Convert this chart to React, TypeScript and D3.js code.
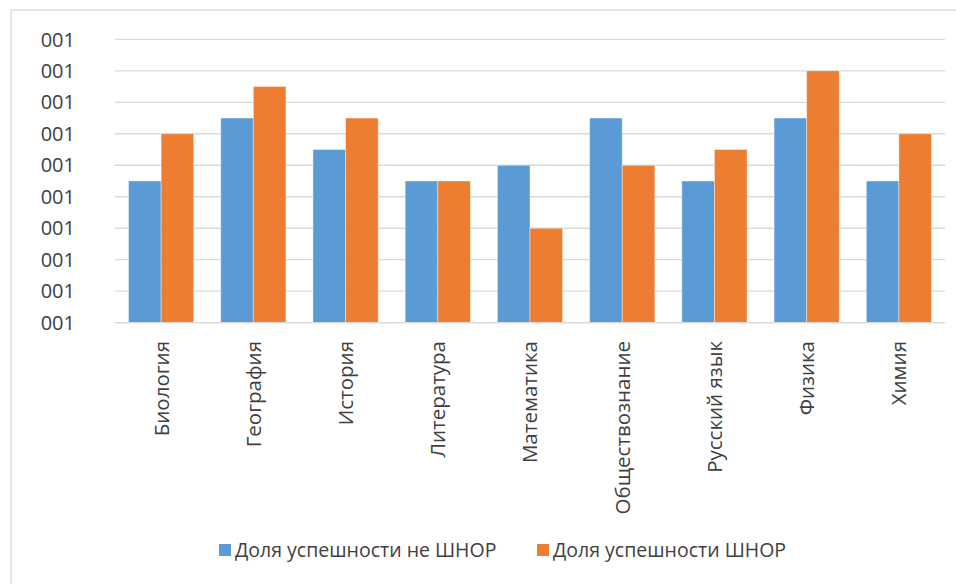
import React from "react";
import * as d3 from "d3";

const categories = ["Биология", "География", "История", "Литература", "Математика", "Обществознание", "Русский язык", "Физика", "Химия"];
const seriesNames = ["Доля успешности не ШНОР", "Доля успешности ШНОР"];
const notShnor = [4.5, 6.5, 5.5, 4.5, 5.0, 6.5, 4.5, 6.5, 4.5];
const shnor = [6.0, 7.5, 6.5, 4.5, 3.0, 5.0, 5.5, 8.0, 6.0];
const yTicks = [0, 1, 2, 3, 4, 5, 6, 7, 8, 9];
const yTickLabels = ["001", "001", "001", "001", "001", "001", "001", "001", "001", "001"];
const colors = ["#5B9BD5", "#ED7D31"];

const W = 956;
const H = 584;
const plot = { left: 115, right: 945, top: 39.3, bottom: 322.7 };
const FONT = "'Open Sans', 'Noto Sans', sans-serif";
const FS = 19.5;
const TXT = "#404040";

export default function App() {
  const x = d3.scaleBand<string>().domain(categories).range([plot.left, plot.right]).paddingInner(0.293).paddingOuter(0.1465);
  const x1 = d3.scaleBand<number>().domain([0, 1]).range([0, x.bandwidth()]);
  const y = d3.scaleLinear().domain([0, 9]).range([plot.bottom, plot.top]);
  const series = [notShnor, shnor];

  return (
    <svg width={W} height={H} style={{ position: "absolute", left: 0, top: 0, display: "block", background: "#fff" }}>
      <rect x={11} y={10} width={W + 20} height={H + 20} fill="#fff" stroke="#d9d9d9" strokeWidth={1.3} />
      {yTicks.map((t, i) => (
        <g key={i}>
          <line x1={plot.left} x2={plot.right} y1={y(t)} y2={y(t)} stroke="#d9d9d9" strokeWidth={1.3} />
          <text x={75} y={y(t)} dy="0.36em" textAnchor="end" fontFamily={FONT} fontSize={20} fill={TXT}>{yTickLabels[i]}</text>
        </g>
      ))}
      {categories.map((c, ci) => (
        <g key={c} transform={`translate(${x(c)},0)`}>
          {series.map((s, si) => (
            <rect key={si} x={x1(si)} y={y(s[ci])} width={x1.bandwidth()} height={y(0) - y(s[ci])} fill={colors[si]} stroke="#fff" strokeOpacity={0.5} strokeWidth={0.8} />
          ))}
        </g>
      ))}
      <line x1={plot.left} x2={plot.right} y1={y(0)} y2={y(0)} stroke="#d9d9d9" strokeWidth={1.3} />
      {categories.map((c) => (
        <text key={c} transform={`translate(${(x(c) as number) + x.bandwidth() / 2},341) rotate(-90)`} dy="0.36em" textAnchor="end" fontFamily={FONT} fontSize={20.5} fill={TXT}>{c}</text>
      ))}
      {seriesNames.map((n, i) => {
        const lx = [219, 537][i];
        return (
          <g key={n}>
            <rect x={lx} y={544} width={12} height={12} fill={colors[i]} />
            <text x={lx + 16} y={550} dy="0.36em" fontFamily={FONT} fontSize={FS} fill={TXT}>{n}</text>
          </g>
        );
      })}
    </svg>
  );
}
